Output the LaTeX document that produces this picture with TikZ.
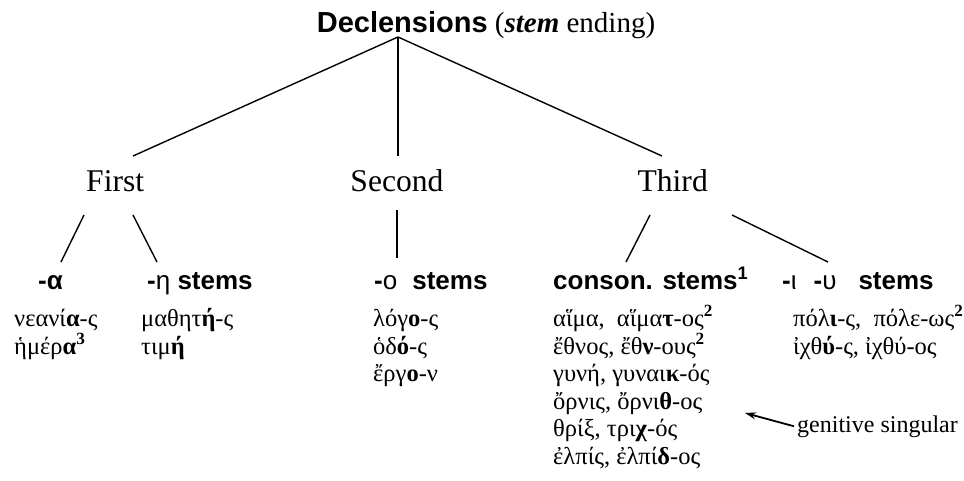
\documentclass[tikz,border=0pt]{standalone}
\usepackage{fontspec}
\setmainfont{Liberation Serif}
\setsansfont{Liberation Sans}
\usetikzlibrary{arrows.meta}
\begin{document}
\begin{tikzpicture}[x=1pt,y=-1pt,
  every node/.style={inner sep=0pt},
  ttl/.style={anchor=base, font=\fontsize{29}{33}\selectfont},
  lvl/.style={anchor=base, font=\fontsize{31.6}{36}\selectfont},
  lvlr/.style={anchor=base east, font=\fontsize{31.6}{36}\selectfont},
  lvll/.style={anchor=base west, font=\fontsize{31.6}{36}\selectfont},
  head/.style={anchor=base west, font=\fontsize{26}{30}\selectfont\sffamily\bfseries},
  gk/.style={anchor=base west, font=\fontsize{24.5}{28}\selectfont},
  note/.style={anchor=base west, font=\fontsize{24}{28}\selectfont},
  edge/.style={line width=1.4pt},
  arr/.style={line width=1.8pt, -{Stealth[length=11pt,width=7pt]}}]
\useasboundingbox (0,0) rectangle (964,481);
% title
\node[ttl] (title) at (486,33) {{\sffamily\bfseries Declensions} (\textbf{\textit{stem}} ending)};
\coordinate (apex) at (398,37);
% level 1
\node[lvll] (first) at (86,192) {First};
\node[lvl] (second) at (397,192) {Second};
\node[lvlr] (third) at (708,192) {Third};
\coordinate (fT) at (133,156);
\coordinate (sT) at (398,156);
\coordinate (tT) at (662,156);
\draw[edge] (apex) -- (fT);
\draw[edge] (apex) -- (sT);
\draw[edge] (apex) -- (tT);
% headings
\node[head] (ha) at (38,289) {-α};
\node[head] (heta) at (147,289) {-{\mdseries η} stems};
\node[head] (ho) at (374,289) {-{\mdseries ο}\hspace{15pt}stems};
\node[head] (hc) at (553,289) {conson. stems\textsuperscript{1}};
\node[head] (hiu) at (782,289) {-{\mdseries ι}\hspace{17pt}-{\mdseries υ}\hspace{22pt}stems};
% sub-branches
\coordinate (f1a) at (84,215); \coordinate (f1b) at (61,262);
\coordinate (f2a) at (133,215); \coordinate (f2b) at (157,262);
\coordinate (s1a) at (397,210); \coordinate (s1b) at (397,258);
\coordinate (t1a) at (650,215); \coordinate (t1b) at (626,262);
\coordinate (t2a) at (732,215); \coordinate (t2b) at (828,262);
\draw[edge] (f1a) -- (f1b);
\draw[edge] (f2a) -- (f2b);
\draw[edge] (s1a) -- (s1b);
\draw[edge] (t1a) -- (t1b);
\draw[edge] (t2a) -- (t2b);
% column 1
\node[gk] (a1) at (14,326) {νεανί\textbf{α}-ς};
\node[gk] (a2) at (14,354) {ἡμέρ\textbf{α}\textsuperscript{\textbf{3}}};
% column 2
\node[gk] (e1) at (141,326) {μαθητ\textbf{ή}-ς};
\node[gk] (e2) at (141,354) {τιμ\textbf{ή}};
% column 3
\node[gk] (o1) at (373,326) {λόγ\textbf{ο}-ς};
\node[gk] (o2) at (373,354) {ὁδ\textbf{ό}-ς};
\node[gk] (o3) at (373,381.5) {ἔργ\textbf{ο}-ν};
% column 4
\node[gk] (c1) at (553,326) {αἵμα,\ \ αἵμα\textbf{τ}-ος\textsuperscript{\textbf{2}}};
\node[gk] (c2) at (553,354) {ἔθνος, ἔθ\textbf{ν}-ους\textsuperscript{\textbf{2}}};
\node[gk] (c3) at (553,381.5) {γυνή, γυναι\textbf{κ}-ός};
\node[gk] (c4) at (553,409) {ὄρνις, ὄρνι\textbf{θ}-ος};
\node[gk] (c5) at (553,436.5) {θρίξ, τρι\textbf{χ}-ός};
\node[gk] (c6) at (553,464) {ἐλπίς, ἐλπί\textbf{δ}-ος};
% column 5
\node[gk] (i1) at (793,326) {πόλ\textbf{ι}-ς,\ \ πόλε-ως\textsuperscript{\textbf{2}}};
\node[gk] (i2) at (793,354) {ἰχθ\textbf{ύ}-ς, ἰχθύ-ος};
% annotation
\node[note] (gen) at (797,432) {genitive singular};
\coordinate (gtip) at (745,413);
\draw[arr] ([xshift=-3pt]gen.west) -- (gtip);
\end{tikzpicture}
\end{document}
